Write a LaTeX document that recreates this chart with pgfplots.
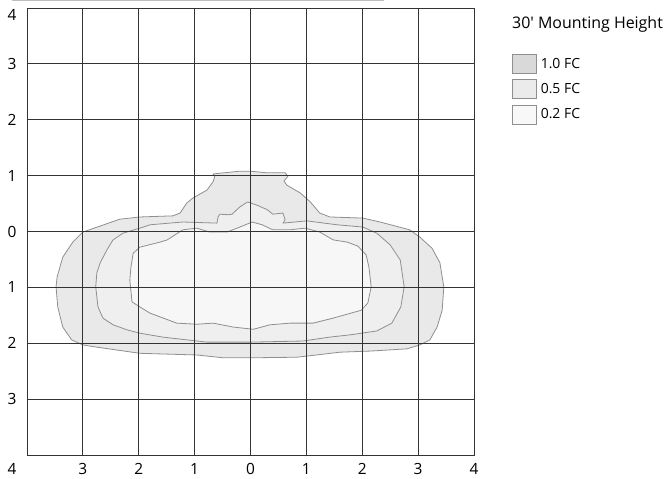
\documentclass[border=0pt]{standalone}
\usepackage{fontspec}
\setmainfont{Open Sans}
\usepackage{pgfplots}
\pgfplotsset{compat=1.18}
\definecolor{gridc}{HTML}{333333}
\definecolor{edge}{HTML}{8F8F8F}
\definecolor{fOne}{HTML}{E9E9E9}
\definecolor{fHalf}{HTML}{EFEFEF}
\definecolor{fTwo}{HTML}{F7F7F7}
\definecolor{lOne}{HTML}{D9D9D9}
\definecolor{lHalf}{HTML}{EBEBEB}
\definecolor{lTwo}{HTML}{F8F8F8}
\begin{document}
\begin{tikzpicture}
\path[use as bounding box] (0,0) rectangle (666bp,479bp);
\draw[color=black!25, line width=1.5bp] (12bp,478.3bp) -- (384bp,478.3bp);
\begin{axis}[
  at={(27bp,24bp)}, anchor=south west,
  scale only axis, width=447bp, height=447bp,
  xmin=-4, xmax=4, ymin=-4, ymax=4,
  xtick={-3,...,4}, ytick={-3,...,3},
  grid=major, major grid style={gridc, line width=0.9bp},
  axis line style={gridc, line width=0.9bp},
  major tick length=0pt,
  axis on top,
  xticklabel={\pgfmathtruncatemacro\a{abs(\tick)}\a},
  yticklabel={\pgfmathtruncatemacro\a{abs(\tick)}\a},
  xticklabel style={anchor=center, yshift=-14bp, font=\fontsize{15.5}{18}\selectfont},
  yticklabel style={anchor=center, xshift=-15bp, font=\fontsize{15.5}{18}\selectfont},
  legend style={at={(rel axis cs:1,1)}, anchor=north west, xshift=38bp, yshift=-46bp,
    draw=none, fill=none, inner sep=0pt, outer sep=0pt, row sep=5.5bp,
    font=\fontsize{14}{16}\selectfont, nodes={inner sep=0pt}},
  legend cell align=left,
  legend image code/.code={\draw[#1] (0bp,-9.5bp) rectangle (24bp,9.5bp);},
  /tikz/every odd column/.append style={column sep=4bp},
  clip=false,
]
\addplot[forget plot, fill=fOne, draw=edge, line width=0.8bp, line join=round] coordinates {
(-0.67,1.03) (-0.19,1.08) (-0.01,1.08) (0.30,1.05) (0.62,1.05) (0.67,0.99) (0.60,0.90) (0.65,0.83)
(0.89,0.69) (1.07,0.53) (1.24,0.33) (1.42,0.26) (2.01,0.24) (2.32,0.17) (2.85,0.03) (3.03,-0.10)
(3.25,-0.30) (3.39,-0.56) (3.46,-0.99) (3.43,-1.41) (3.34,-1.71) (3.21,-1.94) (3.03,-2.03) (2.80,-2.10)
(2.14,-2.14) (1.60,-2.16) (1.01,-2.23) (0.83,-2.25) (0.05,-2.26) (-0.49,-2.26) (-0.96,-2.21) (-1.98,-2.18)
(-2.75,-2.07) (-3.00,-2.03) (-3.20,-1.94) (-3.36,-1.71) (-3.45,-1.35) (-3.48,-0.99) (-3.46,-0.81) (-3.36,-0.46)
(-3.18,-0.19) (-3.00,-0.01) (-2.34,0.22) (-1.98,0.26) (-1.39,0.28) (-1.26,0.33) (-1.14,0.51) (-1.03,0.60)
(-0.78,0.74) (-0.67,0.89) (-0.64,0.98)
} -- cycle;
\addplot[forget plot, fill=fHalf, draw=edge, line width=0.8bp, line join=round] coordinates {
(-1.98,0.06) (-1.80,0.12) (-1.21,0.17) (-0.60,0.15) (-0.58,0.26) (-0.55,0.31) (-0.40,0.30) (-0.33,0.31)
(-0.19,0.44) (-0.05,0.53) (0.12,0.47) (0.30,0.39) (0.40,0.31) (0.58,0.33) (0.62,0.21) (0.58,0.15)
(1.01,0.19) (1.55,0.12) (2.01,0.08) (2.26,-0.03) (2.50,-0.24) (2.68,-0.51) (2.75,-0.99) (2.69,-1.35)
(2.53,-1.64) (2.26,-1.78) (1.78,-1.85) (1.42,-1.89) (0.94,-1.96) (-0.01,-1.98) (-0.78,-1.98) (-1.57,-1.89)
(-1.98,-1.82) (-2.21,-1.76) (-2.46,-1.67) (-2.64,-1.55) (-2.73,-1.35) (-2.77,-0.99) (-2.75,-0.74) (-2.69,-0.56)
(-2.57,-0.33) (-2.46,-0.15) (-2.28,-0.03)
} -- cycle;
\addplot[forget plot, fill=fTwo, draw=edge, line width=0.8bp, line join=round] coordinates {
(-1.62,-0.19) (-1.49,-0.15) (-1.21,0.03) (-0.96,0.06) (-0.73,-0.01) (-0.42,-0.01) (-0.19,0.08) (0.03,0.17)
(0.21,0.12) (0.40,0.03) (0.71,0.03) (0.98,0.06) (1.24,-0.01) (1.48,-0.15) (1.73,-0.19) (1.92,-0.26)
(2.07,-0.42) (2.12,-0.64) (2.16,-0.99) (2.10,-1.28) (1.98,-1.41) (1.73,-1.48) (1.48,-1.55) (1.12,-1.64)
(0.71,-1.64) (0.35,-1.67) (0.05,-1.75) (-0.31,-1.71) (-0.67,-1.64) (-0.96,-1.66) (-1.32,-1.64) (-1.80,-1.46)
(-1.98,-1.35) (-2.12,-1.26) (-2.16,-0.87) (-2.14,-0.64) (-2.10,-0.39) (-1.98,-0.28)
} -- cycle;
\addlegendimage{fill=lOne, draw=edge, line width=0.8bp}
\addlegendentry{1.0 FC}
\addlegendimage{fill=lHalf, draw=edge, line width=0.8bp}
\addlegendentry{0.5 FC}
\addlegendimage{fill=lTwo, draw=edge, line width=0.8bp}
\addlegendentry{0.2 FC}
\node[anchor=west, inner sep=0pt, font=\fontsize{16}{18}\selectfont] at (rel axis cs:1,1) [xshift=38bp, yshift=-16bp] {30\textquotesingle{} Mounting Height};
\node[anchor=center, inner sep=0pt, font=\fontsize{15.5}{18}\selectfont] at (rel axis cs:0,1) [xshift=-15bp, yshift=-7bp] {4};
\node[anchor=center, inner sep=0pt, font=\fontsize{15.5}{18}\selectfont] at (rel axis cs:0,0) [xshift=-15bp, yshift=-14bp] {4};
\end{axis}
\end{tikzpicture}
\end{document}
